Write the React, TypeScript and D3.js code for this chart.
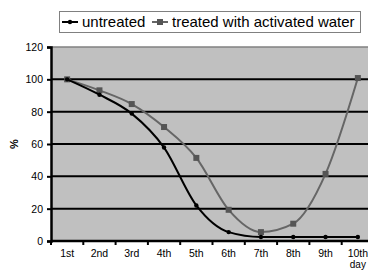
import React, { useEffect, useRef } from 'react';
import * as d3 from 'd3';

const days = ['1st', '2nd', '3rd', '4th', '5th', '6th', '7th', '8th', '9th', '10th'];
const untreated = [100, 90.5, 78.8, 57.8, 22, 5.5, 2.5, 2.5, 2.5, 2.5];
const treated = [100, 93.2, 84.7, 70.5, 51.4, 19.3, 5.5, 10.7, 41.5, 100.8];
const yTicks = [0, 20, 40, 60, 80, 100, 120];

const FONT = 'Arial, "Liberation Sans", sans-serif';

export default function App() {
  const ref = useRef<SVGSVGElement>(null);

  useEffect(() => {
    const svg = d3.select(ref.current);
    svg.selectAll('*').remove();

    const left = 51;
    const top = 47;
    const plotW = 323;
    const plotH = 194;

    const x = d3.scaleBand().domain(days).range([left, left + plotW]);
    const y = d3.scaleLinear().domain([0, 120]).range([top + plotH, top]);

    svg.append('rect').attr('width', 368).attr('height', 270).attr('fill', '#fff');

    // plot area
    svg
      .append('rect')
      .attr('x', left)
      .attr('y', top)
      .attr('width', plotW)
      .attr('height', plotH)
      .attr('fill', '#c0c0c0');

    svg
      .append('line')
      .attr('x1', left)
      .attr('x2', left + plotW)
      .attr('y1', y(120))
      .attr('y2', y(120))
      .attr('stroke', '#808080')
      .attr('stroke-width', 1.5);

    // gridlines
    svg
      .selectAll('.grid')
      .data(yTicks.filter((t) => t > 0 && t < 120))
      .enter()
      .append('line')
      .attr('x1', left)
      .attr('x2', left + plotW)
      .attr('y1', (d) => y(d))
      .attr('y2', (d) => y(d))
      .attr('stroke', '#000')
      .attr('stroke-width', 2);

    // axes
    const yAxis = svg
      .append('g')
      .attr('transform', `translate(${left},0)`)
      .call(d3.axisLeft(y).tickValues(yTicks).tickSize(4).tickPadding(4));
    yAxis.select('.domain').attr('stroke-width', 2.5);
    yAxis.selectAll('.tick line').attr('stroke-width', 2);
    yAxis.selectAll('text').attr('font-family', FONT).attr('font-size', 10.5).attr('fill', '#000');

    const boundaries = days.map((d) => x(d) as number).concat([left + plotW]);
    svg
      .append('line')
      .attr('x1', left)
      .attr('x2', left + plotW)
      .attr('y1', top + plotH)
      .attr('y2', top + plotH)
      .attr('stroke', '#000')
      .attr('stroke-width', 2.5);
    svg
      .selectAll('.xtick')
      .data(boundaries)
      .enter()
      .append('line')
      .attr('x1', (d) => d)
      .attr('x2', (d) => d)
      .attr('y1', top + plotH)
      .attr('y2', top + plotH + 4)
      .attr('stroke', '#000')
      .attr('stroke-width', 2);
    svg
      .selectAll('.xlab')
      .data(days)
      .enter()
      .append('text')
      .attr('x', (d) => (x(d) as number) + x.bandwidth() / 2)
      .attr('y', 257)
      .attr('text-anchor', 'middle')
      .attr('font-family', FONT)
      .attr('font-size', 10.5)
      .text((d) => d);
    svg
      .append('text')
      .attr('x', (x('10th') as number) + x.bandwidth() / 2)
      .attr('y', 267.5)
      .attr('text-anchor', 'middle')
      .attr('font-family', FONT)
      .attr('font-size', 10)
      .text('day');

    svg
      .append('text')
      .attr('transform', `translate(18,${y(60)}) rotate(-90)`)
      .attr('text-anchor', 'middle')
      .attr('font-family', FONT)
      .attr('font-size', 11)
      .attr('font-weight', 'bold')
      .text('%');

    const cx = (i: number) => (x(days[i]) as number) + x.bandwidth() / 2;
    const line = d3
      .line<number>()
      .x((_, i) => cx(i))
      .y((d) => y(d))
      .curve(d3.curveMonotoneX);

    svg
      .append('path')
      .datum(treated)
      .attr('fill', 'none')
      .attr('stroke', '#666')
      .attr('stroke-width', 2)
      .attr('d', line);
    svg
      .selectAll('.tpt')
      .data(treated)
      .enter()
      .append('rect')
      .attr('x', (_, i) => cx(i) - 3)
      .attr('y', (d) => y(d) - 3)
      .attr('width', 6)
      .attr('height', 6)
      .attr('fill', '#555');

    svg
      .append('path')
      .datum(untreated)
      .attr('fill', 'none')
      .attr('stroke', '#000')
      .attr('stroke-width', 2)
      .attr('d', line);
    svg
      .selectAll('.upt')
      .data(untreated)
      .enter()
      .append('circle')
      .attr('cx', (_, i) => cx(i))
      .attr('cy', (d) => y(d))
      .attr('r', 2.2)
      .attr('fill', '#000');

    // legend
    const lg = svg.append('g');
    lg.append('rect')
      .attr('x', 59.5)
      .attr('y', 11.5)
      .attr('width', 301)
      .attr('height', 21)
      .attr('fill', '#fff')
      .attr('stroke', '#808080');
    const items = [
      { label: 'untreated', color: '#000', x: 62, square: false },
      { label: 'treated with activated water', color: '#666', x: 152, square: true },
    ];
    items.forEach((it) => {
      const g = lg.append('g').attr('transform', `translate(${it.x},22)`);
      g.append('line').attr('x1', 0).attr('x2', 16).attr('stroke', it.color).attr('stroke-width', 2);
      if (it.square) {
        g.append('rect').attr('x', 5).attr('y', -3).attr('width', 6).attr('height', 6).attr('fill', '#555');
      } else {
        g.append('circle').attr('cx', 8).attr('cy', 0).attr('r', 2.2).attr('fill', '#000');
      }
      g.append('text')
        .attr('x', 20)
        .attr('y', 0)
        .attr('dy', '0.35em')
        .attr('font-family', FONT)
        .attr('font-size', 15)
        .text(it.label);
    });
  }, []);

  return (
    <svg
      ref={ref}
      width={368}
      height={270}
      style={{ position: 'absolute', left: 0, top: 0, display: 'block' }}
    />
  );
}
